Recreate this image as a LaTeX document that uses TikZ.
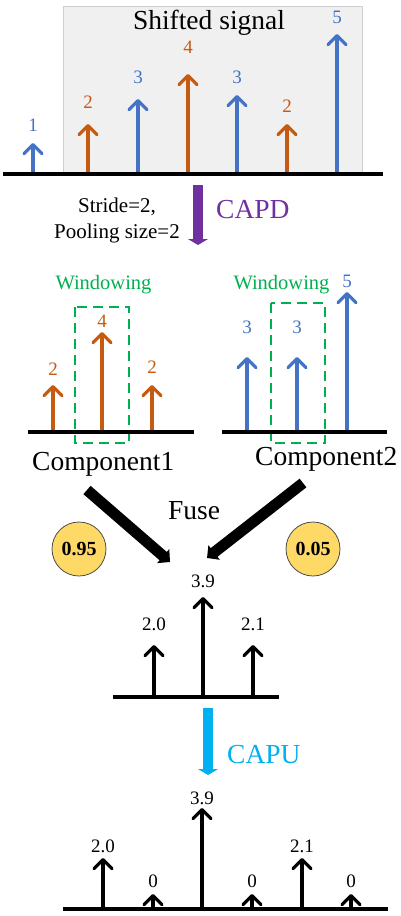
\documentclass[tikz,border=0pt]{standalone}
\usepackage{fontspec}
\setmainfont{Liberation Serif}
\usetikzlibrary{arrows.meta,positioning}

\definecolor{sigblue}{HTML}{4472C4}
\definecolor{sigorange}{HTML}{C55A11}
\definecolor{wingreen}{HTML}{00B050}
\definecolor{capdpurple}{HTML}{7030A0}
\definecolor{capucyan}{HTML}{00B0F0}
\definecolor{weightyellow}{HTML}{FFD966}
\definecolor{boxgray}{HTML}{F0F0F0}
\definecolor{boxedge}{HTML}{CFCFCF}

\begin{document}
\begin{tikzpicture}[x=1pt,y=-1pt,
   axis/.style={line width=3.5pt},
   stem/.style={line width=3.3pt,-{Straight Barb[length=9pt,width=18pt,round]}},
   val/.style={inner sep=0pt,anchor=base,font=\fontsize{19}{20}\selectfont},
   big/.style={inner sep=0pt,font=\fontsize{27.5}{30}\selectfont},
   window/.style={wingreen,line width=2.5pt,dash pattern=on 10pt off 6pt},
   wintext/.style={inner sep=0pt,anchor=base,text=wingreen,font=\fontsize{20.5}{22}\selectfont},
   blockarrow/.style={line width=10pt,-{Triangle[length=6pt,width=20pt]}},
   fusearrow/.style={line width=11pt,-{Triangle[length=9pt,width=18pt]}},
   weight/.style={circle,draw=black!70,line width=0.8pt,fill=weightyellow,minimum size=54pt,
     inner sep=0pt,font=\bfseries\fontsize{20}{22}\selectfont}]
  \useasboundingbox (0,0) rectangle (400,916);

  % shifted input signal
  \node[fill=boxgray,draw=boxedge,line width=0.8pt,anchor=north west,
     minimum width=299pt,minimum height=168pt] (shiftbox) at (63,6) {};
  \node[big,anchor=base] (title) at (209,29) {Shifted signal};
  \foreach \i/\x/\t/\b/\v/\c in {1/33/143/131/1/sigblue,2/88/124/108/2/sigorange,
      3/138/99/83/3/sigblue,4/188/74/53/4/sigorange,5/237/95/83/3/sigblue,
      6/287/124/112/2/sigorange,7/337/34/23/5/sigblue}{
    \coordinate (in-b\i) at (\x,174);
    \coordinate (in-t\i) at (\x,\t);
    \draw[stem,color=\c] (in-b\i) -- (in-t\i);
    \node[val,text=\c] (in-v\i) at (\x,\b) {\v};
  }
  \coordinate (in-l) at (3,174);
  \coordinate (in-r) at (383,174);
  \draw[axis] (in-l) -- (in-r);

  % CAPD step
  \coordinate (capd-s) at (198,185);
  \coordinate (capd-e) at (198,245);
  \draw[blockarrow,capdpurple] (capd-s) -- (capd-e);
  \node[big,anchor=base west,text=capdpurple] (capd) at (216,218) {CAPD};
  \node[inner sep=0pt,align=center,font=\fontsize{21}{26}\selectfont] (params) at (117,220)
     {Stride=2,\\Pooling size=2};

  % component 1
  \node[wintext] (win1) at (103.5,289) {Windowing};
  \draw[window] (75,307) rectangle (129,443);
  \foreach \i/\x/\t/\b/\v in {1/53/385/375/2,2/102/332/327/4,3/152/385/373/2}{
    \coordinate (ca-b\i) at (\x,432);
    \coordinate (ca-t\i) at (\x,\t);
    \draw[stem,sigorange] (ca-b\i) -- (ca-t\i);
    \node[val,text=sigorange] (ca-v\i) at (\x,\b) {\v};
  }
  \coordinate (ca-l) at (28,432);
  \coordinate (ca-r) at (194,432);
  \draw[axis] (ca-l) -- (ca-r);
  \node[big,anchor=base west] (comp1) at (32,470) {Component1};

  % component 2
  \node[wintext] (win2) at (281.5,289) {Windowing};
  \draw[window] (271,303) rectangle (325,443);
  \foreach \i/\x/\t/\b/\v in {1/247/357/333/3,2/297/357/333/3,3/347/292/287/5}{
    \coordinate (cb-b\i) at (\x,432);
    \coordinate (cb-t\i) at (\x,\t);
    \draw[stem,sigblue] (cb-b\i) -- (cb-t\i);
    \node[val,text=sigblue] (cb-v\i) at (\x,\b) {\v};
  }
  \coordinate (cb-l) at (222,432);
  \coordinate (cb-r) at (387,432);
  \draw[axis] (cb-l) -- (cb-r);
  \node[big,anchor=base west] (comp2) at (255,465) {Component2};

  % fusion
  \coordinate (fuse-l) at (87,490);
  \coordinate (fuse-lt) at (170,562);
  \coordinate (fuse-r) at (303,483);
  \coordinate (fuse-rt) at (207,558);
  \draw[fusearrow] (fuse-l) -- (fuse-lt);
  \draw[fusearrow] (fuse-r) -- (fuse-rt);
  \node[big,anchor=base west] (fuse) at (168,519) {Fuse};
  \node[weight] (w1) at (79,549) {0.95};
  \node[weight] (w2) at (313,549) {0.05};

  % fused signal
  \foreach \i/\x/\t/\b/\v in {1/154/645/630/2.0,2/203/597/587/3.9,3/253/645/630/2.1}{
    \coordinate (fu-b\i) at (\x,697);
    \coordinate (fu-t\i) at (\x,\t);
    \draw[stem] (fu-b\i) -- (fu-t\i);
    \node[val] (fu-v\i) at (\x,\b) {\v};
  }
  \coordinate (fu-l) at (113,697);
  \coordinate (fu-r) at (279,697);
  \draw[axis] (fu-l) -- (fu-r);

  % CAPU step
  \coordinate (capu-s) at (208,708);
  \coordinate (capu-e) at (208,775);
  \draw[blockarrow,capucyan] (capu-s) -- (capu-e);
  \node[big,anchor=base west,text=capucyan] (capu) at (227,763) {CAPU};

  % upsampled signal
  \foreach \i/\x/\t/\b/\v in {1/103/858/852/2.0,2/153/894/887/0,3/202/808/804/3.9,
      4/252/894/887/0,5/302/858/852/2.1,6/351/894/887/0}{
    \coordinate (up-b\i) at (\x,909);
    \coordinate (up-t\i) at (\x,\t);
    \draw[stem] (up-b\i) -- (up-t\i);
    \node[val] (up-v\i) at (\x,\b) {\v};
  }
  \coordinate (up-l) at (63,909);
  \coordinate (up-r) at (388,909);
  \draw[axis] (up-l) -- (up-r);
\end{tikzpicture}
\end{document}
